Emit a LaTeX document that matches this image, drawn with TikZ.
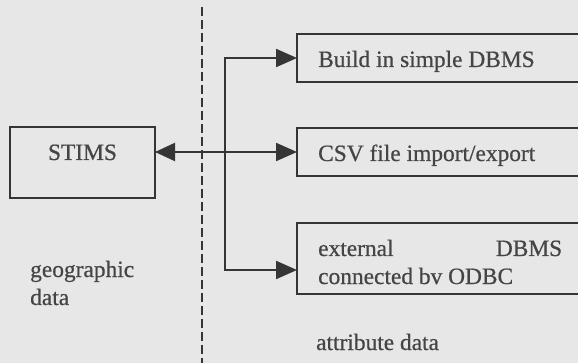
\documentclass[tikz,border=0pt]{standalone}
\usepackage{fontspec}
\setmainfont{Liberation Serif}[FakeBold=0.6]
\usetikzlibrary{arrows.meta}
\definecolor{paper}{HTML}{E7E7E7}
\definecolor{ink}{HTML}{353535}
\definecolor{txt}{HTML}{454545}

\begin{document}
\begin{tikzpicture}[x=1pt,y=-1pt,
  box/.style={draw=ink,line width=2.2pt,anchor=north west,inner sep=0pt,outer sep=0pt},
  lbl/.style={anchor=base west,inner sep=0pt,text=txt,font=\fontsize{23.4}{28}\selectfont},
  link/.style={draw=ink,line width=2.2pt},
  arr/.style={link,-{Triangle[length=21pt,width=18pt]}},
  darr/.style={link,{Triangle[length=20pt,width=18pt]}-{Triangle[length=21pt,width=18pt]}}]

% page and clipping
\useasboundingbox (0,0) rectangle (578,363);
\fill[paper] (0,0) rectangle (578,363);
\clip (0,0) rectangle (578,363);

% divider between geographic and attribute data
\coordinate (dtop) at (202,7);
\coordinate (dbot) at (202,363);
\draw[ink,line width=2.2pt,dash pattern=on 9pt off 4pt] (dtop) -- (dbot);

% boxes
\node[box,minimum width=145pt,minimum height=71pt] (stims) at (10,127) {};
\node[box,minimum width=303pt,minimum height=48pt] (b1) at (297,34) {};
\node[box,minimum width=303pt,minimum height=48pt] (b2) at (297,128) {};
\node[box,minimum width=303pt,minimum height=71pt] (b3) at (297,223) {};

% texts
\node[lbl,anchor=base] (tstims) at (82.5,160) {STIMS};
\node[lbl] (t1) at (318,67) {Build in simple DBMS};
\node[lbl] (t2) at (318,161) {CSV file import/export};
\node[lbl] (t3a) at (318,256) {\makebox[244pt][l]{external\hfill DBMS}};
\node[lbl] (t3b) at (318,284) {connected bv ODBC};
\node[lbl] (g1) at (30,277) {geographic};
\node[lbl] (g2) at (30,305) {data};
\node[lbl] (attr) at (316,350) {attribute data};

% connectors
\coordinate (bustop) at (225,58);
\coordinate (busbot) at (225,270);
\draw[arr] (busbot) -- (bustop) -- (b1.west);
\draw[arr] (bustop) -- (busbot) -- (busbot -| b3.west);
\draw[darr] (b2.west -| stims.east) -- (b2.west);
\end{tikzpicture}
\end{document}
